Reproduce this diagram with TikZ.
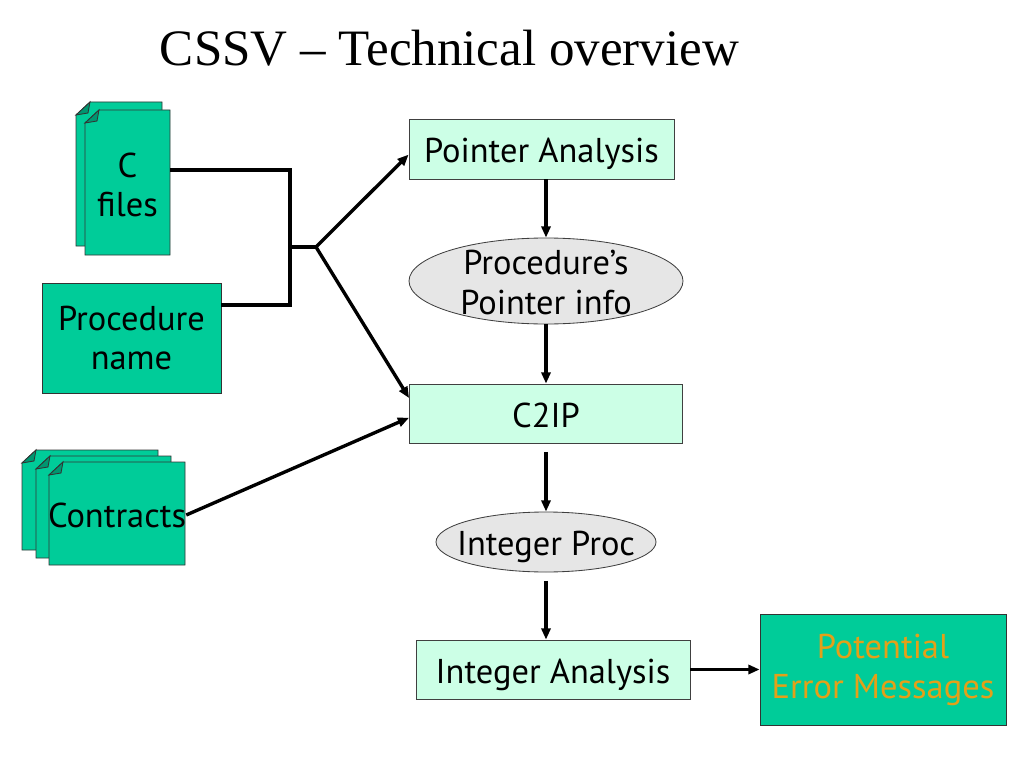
\documentclass[tikz,border=0pt]{standalone}
\usepackage{fontspec}
\setmainfont{PT Sans}
\newfontfamily\titlefont{Liberation Serif}
\usetikzlibrary{positioning,shapes,arrows.meta}

\definecolor{boxgreen}{RGB}{0,204,153}
\definecolor{foldgreen}{RGB}{0,150,112}
\definecolor{lightmint}{RGB}{204,255,230}
\definecolor{ovalgray}{RGB}{230,230,230}
\definecolor{msgorange}{RGB}{228,160,24}

\newcommand{\pxu}{0.025cm}
% one page of a file stack, corner folded at top left
\newcommand{\docpage}[4]{%
  \filldraw[fill=boxgreen, draw=black!80, line width=0.6pt]
    (#1+14,#2) -- (#3,#2) -- (#3,#4) -- (#1,#4) -- (#1,#2+13) -- cycle;
  \filldraw[fill=foldgreen, draw=black!80, line width=0.6pt]
    (#1,#2+13) -- (#1+14,#2) -- (#1+12,#2+11) -- cycle;}

\tikzset{
  oneline/.style={text height=22pt, text depth=2.5pt},
  stagebox/.style={rectangle, draw=black!75, line width=0.6pt, fill=lightmint, inner sep=0pt, oneline},
  inbox/.style={rectangle, draw=black!80, line width=0.6pt, fill=boxgreen, inner sep=0pt, align=center},
  infoval/.style={ellipse, draw=black!75, line width=0.6pt, fill=ovalgray, inner sep=0pt},
  wire/.style={line width=2.4pt, black},
  flow/.style={wire, -{Triangle[length=8pt,width=6.5pt]}},
}

\begin{document}
\begin{tikzpicture}[x=0.025cm, y=-0.025cm,
  font=\fontsize{24.5}{28.3}\selectfont]
\useasboundingbox[fill=white] (0,0) rectangle (1024,768);

\node[anchor=base west, font=\titlefont\fontsize{36.3}{40}\selectfont] (title) at (155,66) {CSSV – Technical overview};

% inputs
\docpage{76}{102}{162}{246}
\docpage{85}{110}{170}{255}
\node[minimum width=85*\pxu, minimum height=145*\pxu, align=center, inner sep=0pt] (cf) at (127.5,185) {C\\files};

\node[inbox, minimum width=179*\pxu, minimum height=110*\pxu] (pn) at (131.5,338) {Procedure\\ name};

\docpage{22}{450}{158}{550}
\docpage{36}{456}{171}{558}
\docpage{49}{462}{185}{565}
\node[minimum width=136*\pxu, minimum height=103*\pxu, inner sep=0pt] (ct) at (117,515) {Contracts};

% pipeline
\node[stagebox, minimum width=265*\pxu, minimum height=60*\pxu] (pa) at (541.5,149) {Pointer Analysis};
\node[infoval, minimum width=274*\pxu, minimum height=86*\pxu,
  label={[align=center, yshift=-1pt]center:Procedure’s\\Pointer info}] (ppi) at (546,281) {};
\node[stagebox, minimum width=273*\pxu, minimum height=59*\pxu] (c2ip) at (546,413.5) {C2IP};
\node[infoval, minimum width=220*\pxu, minimum height=60*\pxu,
  label={[oneline]center:Integer Proc}] (ip) at (546,542) {};
\node[stagebox, minimum width=274*\pxu, minimum height=59*\pxu] (ia) at (553,669.5) {Integer Analysis};
\node[inbox, minimum width=246*\pxu, minimum height=111*\pxu, text=msgorange] (pem) at (883,670) {Potential\\ Error Messages};

% joins
\coordinate (jtop) at (290,170);
\coordinate (jbot) at (290,305);
\coordinate (jmid) at (290,247);
\coordinate (fork) at (316,247);
\draw[wire] (cf.east |- jtop) -- (jtop) -- (jbot) -- (pn.east |- jbot);
\draw[wire] (jmid) -- (fork);
\draw[flow] (fork) -- ([yshift=-4pt]pa.west);
\draw[flow] (fork) -- ([yshift=11pt]c2ip.west);
\draw[flow] (ct.east) -- ([yshift=-3pt]c2ip.west);

\draw[flow] (ppi.north |- pa.south) -- (ppi.north);
\draw[flow] (ppi.south) -- (ppi.south |- c2ip.north);
\draw[flow] ([yshift=-6pt]c2ip.south) -- (ip.north);
\draw[flow] ([yshift=-6pt]ip.south) -- (ia.north -| ip.south);
\draw[flow] (ia.east) -- (ia.east -| pem.west);
\end{tikzpicture}
\end{document}
